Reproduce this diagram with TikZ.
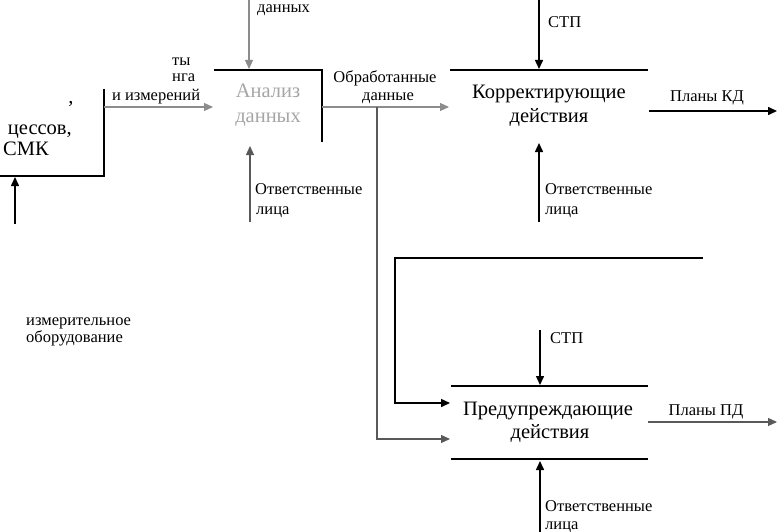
\documentclass[tikz,border=0pt]{standalone}
\usepackage{fontspec}
\setmainfont{Liberation Serif}
\usetikzlibrary{arrows.meta}
\begin{document}
\begin{tikzpicture}[x=1pt,y=-1pt,
  big/.style={font=\fontsize{20.5}{22}\selectfont, inner sep=0pt},
  lab/.style={font=\fontsize{16.5}{18}\selectfont, inner sep=0pt, anchor=base west},
  blk/.style={line width=1.5pt, draw=black},
  gry/.style={line width=1.1pt, draw=black!45},
  dgry/.style={line width=1.2pt, draw=black!65},
  arr/.style={-{Triangle[length=9pt,width=8pt]}},
]
\useasboundingbox (0,0) rectangle (778,532);
\clip (0,0) rectangle (778,532);
\fill[white] (0,0) rectangle (778,532);

% ---------- left box (partially visible)
\coordinate (lbTR) at (104,89);
\coordinate (lbBR) at (104,176);
\coordinate (lbBL) at (-5,176);
\draw[blk] (lbTR) -- (lbBR) -- (lbBL);
\node[big, anchor=base east] (proc) at (72,134) {цессов,};
\node[big, anchor=base west] (smk) at (3,155) {СМК};
\node[big, anchor=base] (comma) at (71,104) {,};
\coordinate (lbIn) at (15,224);
\coordinate (lbInEnd) at (15,177);
\draw[blk,arr] (lbIn) -- (lbInEnd);

% ---------- analysis box
\coordinate (anTL) at (214,70);
\coordinate (anTR) at (322,70);
\coordinate (anBR) at (322,142);
\draw[blk] (anTL) -- (anTR) -- (anBR);
\node[big, text=black!35, anchor=base] (an1) at (268,98) {Анализ};
\node[big, text=black!35, anchor=base] (an2) at (268,122) {данных};

\coordinate (lbOut) at (104,107);
\coordinate (anIn) at (213,107);
\draw[gry,arr] (lbOut) -- (anIn);
\node[lab] (r1) at (172,66) {ты};
\node[lab] (r2) at (172,82) {нга};
\node[lab] (r3) at (112,101) {и измерений};

\coordinate (anCtlTop) at (249,-2);
\coordinate (anCtl) at (249,69);
\draw[gry,arr] (anCtlTop) -- (anCtl);
\node[lab] (dan) at (257,13) {данных};

\coordinate (anMechBot) at (250,222);
\coordinate (anMech) at (250,146);
\draw[dgry,arr] (anMechBot) -- (anMech);
\node[lab] (o1) at (255,194) {Ответственные};
\node[lab] (l1) at (256,214) {лица};

% ---------- output of analysis
\coordinate (anOut) at (322,107);
\coordinate (kdIn) at (449,107);
\coordinate (br) at (377,107);
\coordinate (brB) at (377,439);
\coordinate (pdIn2) at (450,439);
\draw[gry,arr] (anOut) -- (kdIn);
\draw[dgry,arr] (br) -- (brB) -- (pdIn2);
\node[lab, anchor=base] (ob1) at (385,83) {Обработанные};
\node[lab, anchor=base] (ob2) at (388,101) {данные};

% ---------- corrective actions
\coordinate (kdTL) at (450,70);
\coordinate (kdTR) at (648,70);
\draw[blk] (kdTL) -- (kdTR);
\node[big, anchor=base] (kd1) at (549,99) {Корректирующие};
\node[big, anchor=base] (kd2) at (549,122) {действия};

\coordinate (kdCtlTop) at (539,-2);
\coordinate (kdCtl) at (539,69);
\draw[blk,arr] (kdCtlTop) -- (kdCtl);
\node[lab] (stp1) at (548,28) {СТП};

\coordinate (kdMechBot) at (539,222);
\coordinate (kdMech) at (539,143);
\draw[blk,arr] (kdMechBot) -- (kdMech);
\node[lab] (o2) at (545,194) {Ответственные};
\node[lab] (l2) at (545,214) {лица};

\coordinate (kdOut) at (649,111);
\coordinate (kdOutEnd) at (777,111);
\draw[blk,arr] (kdOut) -- (kdOutEnd);
\node[lab, anchor=base] (pkd) at (707,102) {Планы КД};

% ---------- feedback line
\coordinate (fbA) at (703,258);
\coordinate (fbB) at (395,258);
\coordinate (fbC) at (395,403);
\coordinate (pdIn1) at (450,403);
\draw[blk,arr] (fbA) -- (fbB) -- (fbC) -- (pdIn1);

% ---------- preventive actions
\coordinate (pdTL) at (451,386);
\coordinate (pdTR) at (648,386);
\coordinate (pdBL) at (451,459);
\coordinate (pdBR) at (648,459);
\draw[blk] (pdTL) -- (pdTR);
\draw[blk] (pdBL) -- (pdBR);
\node[big, anchor=base] (pd1) at (548,415) {Предупреждающие};
\node[big, anchor=base] (pd2) at (550,438) {действия};

\coordinate (pdCtlTop) at (540,330);
\coordinate (pdCtl) at (540,385);
\draw[blk,arr] (pdCtlTop) -- (pdCtl);
\node[lab] (stp2) at (550,343) {СТП};

\coordinate (pdMechBot) at (540,536);
\coordinate (pdMech) at (540,461);
\draw[blk,arr] (pdMechBot) -- (pdMech);
\node[lab] (o3) at (545,511) {Ответственные};
\node[lab] (l3) at (545,529) {лица};

\coordinate (pdOut) at (648,422);
\coordinate (pdOutEnd) at (777,422);
\draw[dgry,arr] (pdOut) -- (pdOutEnd);
\node[lab, anchor=base] (ppd) at (706,415) {Планы ПД};

% ---------- equipment label
\node[lab] (eq1) at (26,325) {измерительное};
\node[lab] (eq2) at (26,342) {оборудование};
\end{tikzpicture}
\end{document}
